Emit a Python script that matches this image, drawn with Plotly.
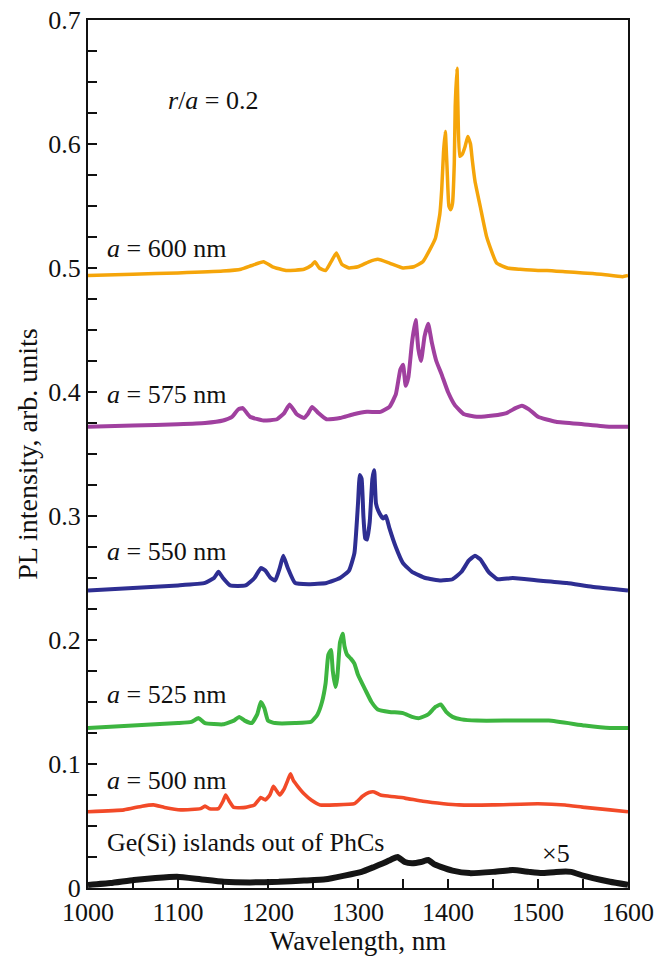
import plotly.graph_objects as go

# ---- data ----
wl_600 = [1000,1050,1100,1150,1170,1182,1195,1205,1220,1240,1248,1252,1257,1264,1270,1276,1282,1290,1300,1312,
          1322,1335,1350,1362,1372,1380,1386,1391,1393,1395,1397,1399,1401,1403,1405,1407,1408,1410,1411,1413,
          1416,1419,1422,1425,1427,1430,1436,1443,1454,1466,1480,1500,1510,1530,1550,1570,1594,1600]
int_600 = [0.494,0.495,0.496,0.4975,0.499,0.502,0.505,0.501,0.498,0.499,0.502,0.505,0.500,0.498,0.505,0.512,0.503,0.500,0.501,0.505,
           0.507,0.504,0.500,0.501,0.505,0.515,0.524,0.544,0.563,0.593,0.610,0.580,0.550,0.547,0.552,0.585,0.630,0.661,0.630,0.590,
           0.592,0.598,0.606,0.600,0.587,0.570,0.549,0.525,0.504,0.500,0.499,0.498,0.498,0.497,0.496,0.495,0.493,0.494]

wl_575 = [1000,1050,1100,1130,1150,1160,1167,1172,1180,1195,1210,1218,1224,1232,1240,1244,1249,1256,1265,1280,
          1295,1310,1325,1335,1342,1347,1350,1353,1356,1360,1364,1367,1370,1374,1378,1382,1387,1393,1400,1408,
          1418,1432,1450,1465,1475,1482,1490,1500,1520,1550,1580,1600]
int_575 = [0.372,0.373,0.374,0.375,0.377,0.380,0.386,0.387,0.380,0.377,0.378,0.383,0.390,0.382,0.379,0.382,0.388,0.383,0.378,0.379,
           0.382,0.384,0.384,0.388,0.398,0.418,0.422,0.405,0.412,0.440,0.458,0.435,0.425,0.445,0.455,0.440,0.425,0.414,0.400,0.389,
           0.382,0.380,0.381,0.383,0.387,0.389,0.386,0.380,0.376,0.374,0.372,0.372]

wl_550 = [1000,1050,1100,1130,1140,1145,1150,1158,1175,1185,1192,1197,1203,1208,1213,1217,1222,1230,1245,1265,
          1280,1290,1296,1300,1302,1304,1306,1308,1310,1313,1316,1318,1320,1324,1328,1331,1335,1342,1350,1360,
          1375,1392,1405,1415,1423,1430,1436,1445,1455,1472,1500,1532,1560,1600]
int_550 = [0.240,0.242,0.244,0.246,0.250,0.255,0.250,0.244,0.244,0.250,0.258,0.256,0.250,0.248,0.258,0.268,0.258,0.246,0.245,0.246,
           0.250,0.256,0.270,0.310,0.333,0.330,0.300,0.282,0.281,0.295,0.330,0.337,0.310,0.302,0.298,0.300,0.290,0.275,0.262,0.255,
           0.250,0.248,0.249,0.255,0.264,0.268,0.265,0.255,0.249,0.250,0.248,0.246,0.243,0.240]

wl_525 = [1000,1050,1100,1115,1123,1130,1150,1162,1168,1174,1182,1188,1192,1196,1200,1208,1230,1248,1255,1260,
          1264,1267,1270,1272,1275,1277,1280,1283,1285,1288,1292,1296,1300,1308,1315,1322,1335,1350,1360,1368,
          1378,1386,1392,1398,1405,1415,1432,1470,1512,1552,1580,1600]
int_525 = [0.129,0.131,0.133,0.134,0.137,0.133,0.132,0.135,0.138,0.135,0.133,0.140,0.150,0.145,0.135,0.133,0.133,0.134,0.140,0.150,
           0.165,0.188,0.192,0.175,0.162,0.170,0.198,0.205,0.195,0.188,0.185,0.181,0.172,0.160,0.150,0.144,0.142,0.141,0.138,0.137,
           0.140,0.146,0.148,0.142,0.138,0.136,0.135,0.135,0.135,0.131,0.129,0.129]

wl_500 = [1000,1040,1060,1073,1085,1103,1125,1130,1135,1145,1150,1153,1157,1162,1175,1185,1192,1197,1202,1206,
          1209,1213,1218,1222,1225,1228,1233,1240,1248,1258,1275,1296,1305,1312,1318,1325,1335,1352,1372,1395,
          1412,1450,1500,1530,1552,1580,1600]
int_500 = [0.0615,0.063,0.066,0.067,0.065,0.063,0.064,0.066,0.064,0.064,0.070,0.075,0.070,0.065,0.065,0.067,0.073,0.071,0.075,0.082,
           0.079,0.075,0.080,0.087,0.092,0.087,0.082,0.076,0.071,0.067,0.067,0.068,0.074,0.077,0.0775,0.075,0.074,0.0725,0.070,0.068,
           0.067,0.067,0.068,0.067,0.065,0.063,0.0615]

wl_ref = [1000,1025,1051,1075,1099,1125,1151,1180,1212,1240,1264,1285,1304,1318,1328,1337,1344,1352,1360,1370,
          1378,1385,1392,1405,1424,1450,1472,1490,1504,1520,1537,1550,1561,1580,1600]
int_ref = [0.0025,0.004,0.0065,0.008,0.009,0.007,0.005,0.0045,0.005,0.006,0.007,0.010,0.013,0.017,0.020,0.023,0.025,0.021,0.020,0.021,
           0.0226,0.019,0.017,0.014,0.012,0.013,0.0145,0.013,0.012,0.013,0.013,0.010,0.008,0.005,0.0025]

y_tick_vals = [0, 0.1, 0.2, 0.3, 0.4, 0.5, 0.6, 0.7]
y_tick_text = ["0", "0.1", "0.2", "0.3", "0.4", "0.5", "0.6", "0.7"]
x_tick_vals = [1000, 1100, 1200, 1300, 1400, 1500, 1600]

series = [
    (wl_600, int_600, "#F5A50A", 3.5),
    (wl_575, int_575, "#A0409F", 4),
    (wl_550, int_550, "#2E2E92", 4),
    (wl_525, int_525, "#3DB540", 4),
    (wl_500, int_500, "#F24A28", 3.6),
    (wl_ref, int_ref, "#151515", 6),
]

labels = [
    ("<i>a</i> = 600 nm", 1019, 0.516),
    ("<i>a</i> = 575 nm", 1019, 0.398),
    ("<i>a</i> = 550 nm", 1019, 0.271),
    ("<i>a</i> = 525 nm", 1019, 0.156),
    ("<i>a</i> = 500 nm", 1019, 0.087),
    ("Ge(Si) islands out of PhCs", 1019, 0.037),
    ("×5", 1502, 0.028),
    ("<i>r</i>/<i>a</i> = 0.2", 1087, 0.635),
]

FONT = "Liberation Serif, Times New Roman, serif"
FS = 26

fig = go.Figure()
for x, y, c, w in series:
    fig.add_trace(go.Scatter(x=x, y=y, mode="lines",
                             line=dict(color=c, width=w, shape="spline", smoothing=0.4),
                             showlegend=False, hoverinfo="skip"))

for text, x, y in labels:
    fig.add_annotation(x=x, y=y, xref="x", yref="y", text=text, showarrow=False,
                       xanchor="left", yanchor="middle",
                       font=dict(family=FONT, size=FS, color="#111"))

# the page body has an 8 px margin, so the figure is offset by 8 px
fig.update_layout(
    width=663, height=948,
    margin=dict(l=80, r=43, t=12, b=68, autoexpand=False),
    paper_bgcolor="white", plot_bgcolor="white",
    font=dict(family=FONT, size=FS, color="#111"),
)
fig.update_xaxes(
    range=[1000, 1600], tickvals=x_tick_vals, ticks="inside", ticklen=9, tickwidth=1.5,
    tickcolor="#111", showline=True, linecolor="#111", linewidth=2, mirror=True,
    showgrid=False, zeroline=False, automargin=False, ticklabeloverflow="allow",
    minor=dict(dtick=50, ticks="inside", ticklen=9, tickwidth=1.5, tickcolor="#111", showgrid=False),
    title=dict(text="Wavelength, nm", font=dict(family=FONT, size=27), standoff=0),
    tickfont=dict(family=FONT, size=FS),
)
fig.update_yaxes(
    range=[0, 0.7], tickvals=y_tick_vals, ticktext=y_tick_text, ticks="inside", ticklen=9, tickwidth=1.5,
    tickcolor="#111", showline=True, linecolor="#111", linewidth=2, mirror=True,
    showgrid=False, zeroline=False, automargin=False, ticklabeloverflow="allow",
    minor=dict(dtick=0.025, ticks="inside", ticklen=9, tickwidth=1.5, tickcolor="#111", showgrid=False),
    title=dict(text="PL intensity, arb. units", font=dict(family=FONT, size=28), standoff=2),
    tickfont=dict(family=FONT, size=FS),
)

fig.write_html("out.html")
